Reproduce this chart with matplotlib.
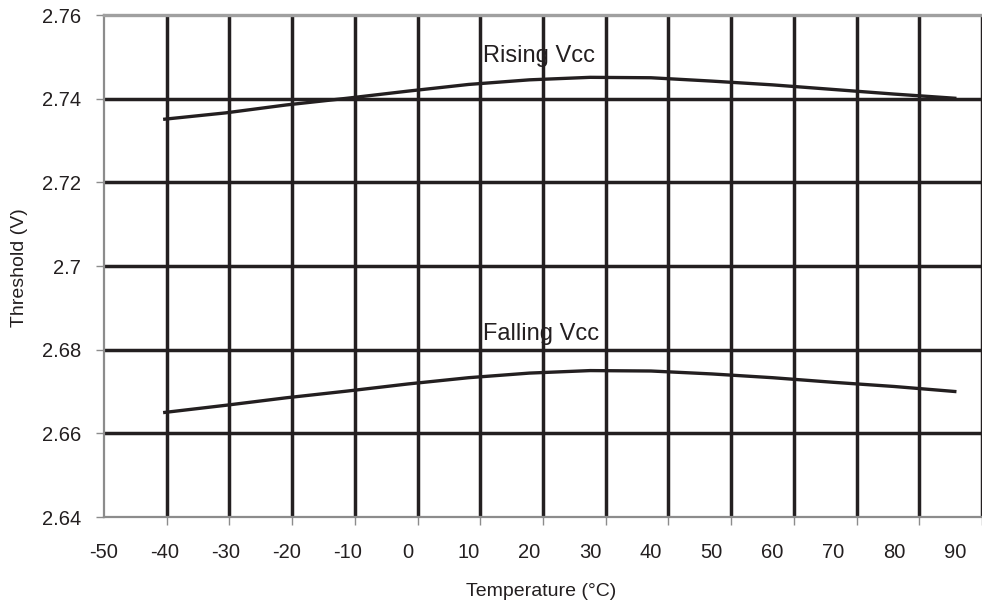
import numpy as np
import matplotlib
matplotlib.use("Agg")
import matplotlib.pyplot as plt

# Data (temperature in °C, threshold in V)
temperature = [-40, -30, -20, -10, 0, 10, 20, 30, 40, 50, 60, 70, 80, 90]
rising_vcc = [2.7351, 2.7366, 2.7385, 2.7401, 2.7418, 2.7434, 2.7445, 2.7451,
              2.7450, 2.7442, 2.7433, 2.7422, 2.7411, 2.7401]
falling_vcc = [2.6650, 2.6667, 2.6685, 2.6701, 2.6718, 2.6733, 2.6744, 2.6750,
               2.6749, 2.6742, 2.6733, 2.6722, 2.6712, 2.6700]
x_tick_labels = [-50, -40, -30, -20, -10, 0, 10, 20, 30, 40, 50, 60, 70, 80, 90]
y_ticks = [2.64, 2.66, 2.68, 2.70, 2.72, 2.74, 2.76]
y_tick_labels = ["2.64", "2.66", "2.68", "2.7", "2.72", "2.74", "2.76"]

plt.rcParams['font.family'] = ['Liberation Sans', 'DejaVu Sans']
DARK = "#231f20"
GRAY = "#8c8c8c"

W, H = 982, 610
fig = plt.figure(figsize=(W / 100, H / 100), dpi=100)
ax = fig.add_axes([104 / W, 1 - 517 / H, 1 - 104 / W, (517 - 15) / H])

# gridline spacing in the original is slightly wider than the label spacing
grid_step = 10 * 63.26 / 61.3
x_left = -50
x_right = x_left + (W - 104) / 6.13
grid_x = [x_left + grid_step * k for k in range(1, 15)]

ax.set_xlim(x_left, x_right)
ax.set_ylim(2.64, 2.76)

for gx in grid_x:
    ax.axvline(gx, color=DARK, lw=2.5, zorder=1)
for gy in y_ticks[1:-1]:
    ax.axhline(gy, color=DARK, lw=2.5, zorder=1)

ax.plot(temperature, rising_vcc, color=DARK, lw=2.4, zorder=3)
ax.plot(temperature, falling_vcc, color=DARK, lw=2.4, zorder=3)

ax.text(12.3, 2.7502, "Rising Vcc", fontsize=17, color=DARK, ha='left', va='center', zorder=4)
ax.text(12.3, 2.6837, "Falling Vcc", fontsize=17, color=DARK, ha='left', va='center', zorder=4)

# spines
ax.spines['right'].set_visible(False)
ax.spines['top'].set_color('#a0a0a0')
ax.spines['top'].set_linewidth(2.4)
ax.spines['left'].set_color(GRAY)
ax.spines['left'].set_linewidth(1.6)
ax.spines['bottom'].set_color(GRAY)
ax.spines['bottom'].set_linewidth(1.6)

# x ticks: labels at label positions, tick marks at gridline positions
ax.set_xticks(x_tick_labels)
ax.set_xticklabels([str(v) for v in x_tick_labels])
ax.tick_params(axis='x', which='major', length=0, pad=19, labelsize=14.5, labelcolor=DARK)
ax.set_xticks([x_left] + grid_x, minor=True)
ax.tick_params(axis='x', which='minor', length=5.5, width=1.0, color=GRAY)

ax.set_yticks(y_ticks)
ax.set_yticklabels(y_tick_labels)
ax.tick_params(axis='y', which='major', length=5.5, width=1.0, color=GRAY,
               pad=11, labelsize=14.5, labelcolor=DARK)

fig.text(541 / W, 1 - 592 / H, "Temperature (°C)", fontsize=14, color=DARK,
         ha='center', va='center')
fig.text(20 / W, 1 - 268 / H, "Threshold (V)", fontsize=14, color=DARK,
         ha='center', va='center', rotation=90)

fig.savefig("out.png", dpi=100)
